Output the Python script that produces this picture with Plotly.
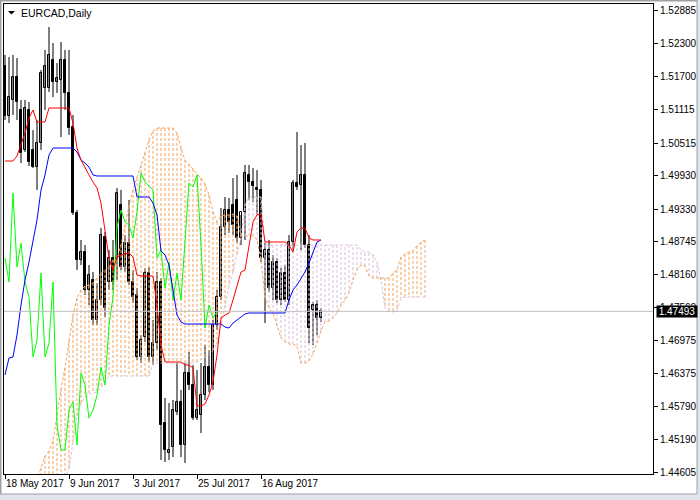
import plotly.graph_objects as go

# ---------------- data (EURCAD, Daily, 18 May 2017 ... 6 Sep 2017) ----------------
opens = [1.51897,1.51000,1.51287,1.51700,1.51108,1.50390,1.51108,1.50390,1.50084,1.50515,
         1.51502,1.51502,1.52005,1.51610,1.51646,1.52005,1.51413,1.50802,1.49259,1.48415,
         1.48559,1.47877,1.48056,1.47338,1.47697,1.48828,1.48020,1.48451,1.48415,1.49402,
         1.48289,1.48720,1.48020,1.47787,1.46674,1.47033,1.48182,1.46674,1.46925,1.48020,
         1.45489,1.44951,1.45058,1.45685,1.45866,1.45094,1.46387,1.46171,1.45577,1.45631,
         1.45992,1.46494,1.46171,1.47248,1.47751,1.49007,1.49313,1.49402,1.49492,1.48810,
         1.49277,1.49941,1.49815,1.49707,1.49672,1.48451,1.48595,1.47912,1.48379,1.47697,
         1.48182,1.47697,1.48738,1.49797,1.49761,1.49941,1.48684,1.47518,1.47607,1.47374]
highs = [1.52095,1.52059,1.52095,1.52041,1.51287,1.51287,1.51251,1.50749,1.50928,1.51826,
         1.52185,1.52597,1.52310,1.51951,1.52328,1.52185,1.52185,1.51018,1.49313,1.48774,
         1.48684,1.48325,1.48200,1.48002,1.48989,1.48918,1.48595,1.48774,1.49707,1.49672,
         1.48864,1.49492,1.48236,1.47912,1.47069,1.48271,1.48289,1.47338,1.48200,1.48092,
         1.45938,1.45848,1.45902,1.46566,1.46082,1.46566,1.46764,1.46530,1.46441,1.46566,
         1.46889,1.46800,1.47338,1.47877,1.49348,1.49546,1.49528,1.49887,1.49941,1.49223,
         1.50120,1.50120,1.50066,1.50031,1.49851,1.48720,1.48774,1.48505,1.48451,1.48271,
         1.48325,1.48864,1.49851,1.50713,1.50479,1.50515,1.48864,1.47661,1.47697,1.47553]
lows = [1.50928,1.50874,1.51018,1.50928,1.50156,1.50354,1.50102,1.50066,1.49672,1.50390,
        1.51108,1.51431,1.51341,1.51413,1.50623,1.51108,1.50659,1.49223,1.48236,1.48325,
        1.47787,1.47607,1.47248,1.47248,1.47607,1.47392,1.47877,1.47877,1.48056,1.48236,
        1.48200,1.47966,1.47643,1.46620,1.46566,1.46943,1.46584,1.46530,1.46800,1.44825,
        1.44789,1.44825,1.44879,1.45631,1.44879,1.44771,1.46082,1.45543,1.45543,1.45310,
        1.45902,1.46046,1.46082,1.47159,1.47697,1.48864,1.48900,1.48864,1.48720,1.48684,
        1.48774,1.49492,1.49456,1.49223,1.48379,1.47284,1.47841,1.47697,1.47643,1.47607,
        1.47661,1.47607,1.48595,1.49672,1.48595,1.48630,1.46925,1.46889,1.47069,1.47302]
closes = [1.51000,1.51341,1.51700,1.51251,1.50336,1.51143,1.50174,1.50084,1.50515,1.51772,
          1.51897,1.52095,1.51610,1.51682,1.52005,1.51413,1.50784,1.49259,1.48415,1.48559,
          1.47877,1.48146,1.47338,1.47697,1.48864,1.47553,1.48451,1.48020,1.49618,1.48289,
          1.48720,1.48020,1.47751,1.46674,1.46979,1.48182,1.46674,1.46925,1.48020,1.45453,
          1.45005,1.45005,1.45721,1.45866,1.45094,1.46387,1.46171,1.45577,1.45721,1.45992,
          1.46494,1.46171,1.47248,1.47751,1.49007,1.49313,1.49097,1.49043,1.48810,1.49277,
          1.49977,1.49815,1.49743,1.49672,1.48451,1.48595,1.47912,1.48379,1.47697,1.48182,
          1.47697,1.48738,1.49797,1.49725,1.49941,1.48684,1.47194,1.47607,1.47374,1.47493]

tenkan = [1.50192,1.50192,1.50192,1.50282,1.50479,1.50695,1.50964,1.51108,1.50892,1.50892,
          1.50892,1.51143,1.51143,1.51143,1.51143,1.51143,1.51143,1.50874,1.50425,1.50210,
          1.50066,1.49941,1.49815,1.49707,1.49438,1.48954,1.48451,1.48236,1.48469,1.48505,
          1.48523,1.48541,1.48469,1.48146,1.48128,1.48128,1.48128,1.48128,1.47607,1.46889,
          1.46584,1.46584,1.46584,1.46584,1.46584,1.46530,1.46530,1.46476,1.45794,1.45794,
          1.45830,1.45992,1.46225,1.46710,1.47374,1.47428,1.47464,1.47697,1.47966,1.48200,
          1.48236,1.48684,1.49097,1.49223,1.49241,1.48738,1.48738,1.48738,1.48738,1.48738,
          1.48738,1.48684,1.48559,1.48918,1.48989,1.48989,1.48810,1.48774,1.48774,1.48774]
kijun = [1.46351,1.46656,1.46674,1.47069,1.47607,1.48056,1.48379,1.48738,1.49133,1.49672,
         1.49941,1.50300,1.50425,1.50425,1.50425,1.50425,1.50425,1.50425,1.50354,1.50210,
         1.50156,1.50084,1.49941,1.49923,1.49923,1.49923,1.49923,1.49923,1.49923,1.49923,
         1.49923,1.49923,1.49923,1.49546,1.49546,1.49546,1.49546,1.49438,1.49223,1.48577,
         1.48505,1.48325,1.47877,1.47428,1.47302,1.47266,1.47266,1.47266,1.47266,1.47266,
         1.47266,1.47266,1.47266,1.47266,1.47266,1.47212,1.47194,1.47284,1.47338,1.47392,
         1.47446,1.47464,1.47464,1.47464,1.47464,1.47464,1.47464,1.47464,1.47464,1.47464,
         1.47464,1.47697,1.47877,1.47966,1.48074,1.48200,1.48361,1.48541,1.48738,1.48774]
span_a = [1.43748,1.43838,1.43928,1.44017,1.44107,1.44197,1.44287,1.44376,1.44502,1.44681,
          1.44897,1.44987,1.45166,1.45669,1.46099,1.46476,1.46979,1.47428,1.47733,1.47877,
          1.47948,1.47966,1.48002,1.48092,1.48182,1.48236,1.48289,1.48415,1.48433,1.48684,
          1.49043,1.49384,1.49672,1.49887,1.50120,1.50336,1.50569,1.50731,1.50784,1.50784,
          1.50784,1.50784,1.50784,1.50695,1.50425,1.50210,1.50138,1.50048,1.49959,1.49887,
          1.49779,1.49582,1.49277,1.49097,1.49205,1.49223,1.49223,1.49241,1.49205,1.48846,
          1.48846,1.48846,1.48846,1.48774,1.48415,1.47733,1.47553,1.47464,1.47230,1.47015,
          1.46943,1.46907,1.46907,1.46871,1.46566,1.46566,1.46602,1.46728,1.46925,1.47141,
          1.47302,1.47320,1.47374,1.47464,1.47607,1.47697,1.47823,1.48056,1.48236,1.48325,
          1.48307,1.48128,1.48092,1.48092,1.48092,1.48092,1.48092,1.48182,1.48236,1.48469,
          1.48523,1.48559,1.48577,1.48666,1.48738,1.48774]
span_b = [1.43569,1.43604,1.43640,1.43676,1.43712,1.43748,1.43784,1.43838,1.43892,1.43963,
          1.44035,1.44107,1.44179,1.44287,1.44394,1.44502,1.44681,1.45148,1.45615,1.45848,
          1.45956,1.46010,1.46028,1.46046,1.46117,1.46261,1.46333,1.46333,1.46333,1.46333,
          1.46333,1.46333,1.46333,1.46333,1.46333,1.46333,1.46333,1.46566,1.46566,1.46566,
          1.46566,1.46566,1.46566,1.46566,1.46566,1.46566,1.46566,1.46566,1.46584,1.46620,
          1.46674,1.46710,1.46800,1.46907,1.47230,1.47571,1.47948,1.48200,1.48505,1.48828,
          1.49402,1.49546,1.49546,1.49546,1.49546,1.48684,1.48684,1.48684,1.48684,1.48684,
          1.48684,1.48684,1.48684,1.48684,1.48684,1.48684,1.48684,1.48684,1.48684,1.48684,
          1.48684,1.48684,1.48684,1.48684,1.48684,1.48684,1.48684,1.48684,1.48684,1.48595,
          1.48559,1.48559,1.48505,1.48379,1.48056,1.47553,1.47482,1.47482,1.47518,1.47733,
          1.47751,1.47751,1.47751,1.47751,1.47751,1.47751]
chikou_shift = 26

date_ticks = [0, 16, 32, 48, 64]
date_labels = ["18 May 2017", "9 Jun 2017", "3 Jul 2017", "25 Jul 2017", "16 Aug 2017"]
price_ticks = [1.52885, 1.52300, 1.51700, 1.51115, 1.50515, 1.49930, 1.49330, 1.48745,
               1.48160, 1.47560, 1.46975, 1.46375, 1.45790, 1.45190, 1.44605]
last_price = 1.47493
title_text = "EURCAD,Daily"

# ---------------- layout geometry ----------------
W, H = 700, 500
ML, MR, MT, MB = 4, 47, 4, 26
PW, PH = W - ML - MR, H - MT - MB
X_RANGE = [-0.25, PW / 4.0 - 0.25]   # 4 px per daily bar
Y_RANGE = [1.44574, 1.53010]
FONT = "Liberation Sans"

def pxx(px):  # pixel x -> paper x
    return (px - ML) / PW

def pxy(py):  # pixel y -> paper y
    return 1 - (py - MT) / PH

def bar_px(i):  # bar index -> pixel x
    return ML + (i - X_RANGE[0]) / (X_RANGE[1] - X_RANGE[0]) * PW

n = len(closes)
idx = list(range(n))
n_cloud = len(span_a)
cidx = list(range(n_cloud))

fig = go.Figure()

# wicks
wx, wy = [], []
for i in idx:
    wx += [i, i, None]
    wy += [lows[i], highs[i], None]
fig.add_trace(go.Scatter(x=wx, y=wy, mode="lines", line=dict(color="black", width=1),
                         hoverinfo="skip", showlegend=False))

# bodies
bases = [min(o, c) for o, c in zip(opens, closes)]
heights = [max(abs(c - o), 0.00003) for o, c in zip(opens, closes)]
colors = ["white" if c >= o else "black" for o, c in zip(opens, closes)]
fig.add_trace(go.Bar(x=idx, y=heights, base=bases, width=0.5,
                     marker=dict(color=colors, line=dict(color="black", width=1)),
                     hoverinfo="skip", showlegend=False))

# cloud histogram
SANDY, THISTLE = "#F4A460", "#D8BFD8"
DASH = "3px,2px"
sx, sy, tx, ty = [], [], [], []
for i in cidx:
    if span_a[i] >= span_b[i]:
        sx += [i, i, None]; sy += [span_a[i], span_b[i], None]
    else:
        tx += [i, i, None]; ty += [span_a[i], span_b[i], None]
fig.add_trace(go.Scatter(x=sx, y=sy, mode="lines", line=dict(color=SANDY, width=1, dash=DASH),
                         hoverinfo="skip", showlegend=False))
fig.add_trace(go.Scatter(x=tx, y=ty, mode="lines", line=dict(color=THISTLE, width=1, dash=DASH),
                         hoverinfo="skip", showlegend=False))
fig.add_trace(go.Scatter(x=cidx, y=span_a, mode="lines", line=dict(color=SANDY, width=1, dash=DASH),
                         hoverinfo="skip", showlegend=False))
fig.add_trace(go.Scatter(x=cidx, y=span_b, mode="lines", line=dict(color=THISTLE, width=1, dash=DASH),
                         hoverinfo="skip", showlegend=False))

# chikou (close shifted back)
fig.add_trace(go.Scatter(x=idx[:n - chikou_shift], y=closes[chikou_shift:], mode="lines",
                         line=dict(color="#00FF00", width=1), hoverinfo="skip", showlegend=False))
# kijun, tenkan
fig.add_trace(go.Scatter(x=idx, y=kijun, mode="lines", line=dict(color="#0000FF", width=1),
                         hoverinfo="skip", showlegend=False))
fig.add_trace(go.Scatter(x=idx, y=tenkan, mode="lines", line=dict(color="#FF0000", width=1),
                         hoverinfo="skip", showlegend=False))

shapes = [
    dict(type="line", xref="paper", yref="y", x0=0, x1=1, y0=last_price, y1=last_price,
         line=dict(color="#C0C0C0", width=1), layer="above"),
    dict(type="path", xref="paper", yref="paper",
         path=f"M {pxx(8)},{pxy(11)} L {pxx(15)},{pxy(11)} L {pxx(11.5)},{pxy(14.5)} Z",
         fillcolor="black", line=dict(width=0)),
    # window chrome
    dict(type="rect", xref="paper", yref="paper", x0=pxx(0), x1=pxx(1.5), y0=pxy(500), y1=pxy(0),
         fillcolor="#A0A0A0", line=dict(width=0)),
    dict(type="rect", xref="paper", yref="paper", x0=pxx(0), x1=pxx(700), y0=pxy(1.5), y1=pxy(0),
         fillcolor="#A0A0A0", line=dict(width=0)),
    dict(type="rect", xref="paper", yref="paper", x0=pxx(697), x1=pxx(700), y0=pxy(500), y1=pxy(0),
         fillcolor="#DDE4EE", line=dict(width=0)),
    dict(type="line", xref="paper", yref="paper", x0=pxx(697), x1=pxx(697), y0=pxy(494), y1=pxy(0),
         line=dict(color="#A0A0A0", width=1)),
    dict(type="rect", xref="paper", yref="paper", x0=pxx(0), x1=pxx(700), y0=pxy(500), y1=pxy(494),
         fillcolor="#DDE4EE", line=dict(width=0)),
    dict(type="line", xref="paper", yref="paper", x0=pxx(0), x1=pxx(697), y0=pxy(494), y1=pxy(494),
         line=dict(color="#A0A0A0", width=1)),
]

TXT = dict(family=FONT, size=10, color="black")
annotations = [
    dict(text=title_text, xref="paper", yref="paper", x=pxx(19), y=pxy(13), xanchor="left",
         yanchor="middle", showarrow=False, font=dict(family=FONT, size=10.5, color="black")),
]
for v in price_ticks:
    annotations.append(dict(text=f"{v:.5f}", xref="paper", yref="y", x=pxx(658), y=v,
                            xanchor="left", yanchor="middle", showarrow=False, font=TXT))
# current price label (drawn after the tick labels so it covers the one beneath)
annotations.append(dict(text=f"{last_price:.5f}", xref="paper", yref="y", x=pxx(656), y=last_price,
                        xanchor="left", yanchor="middle", showarrow=False, bgcolor="black",
                        width=40, height=11, borderpad=0, align="center",
                        font=dict(family=FONT, size=10, color="white")))
for t, lab in zip(date_ticks, date_labels):
    annotations.append(dict(text=lab, xref="paper", yref="paper", x=pxx(bar_px(t) - 1.5), y=pxy(483),
                            xanchor="left", yanchor="middle", showarrow=False, font=TXT))

fig.update_layout(
    width=W, height=H, margin=dict(l=ML, r=MR, t=MT, b=MB, pad=0),
    paper_bgcolor="white", plot_bgcolor="white", showlegend=False, hovermode=False,
    bargap=0, shapes=shapes, annotations=annotations,
    xaxis=dict(range=X_RANGE, showgrid=False, zeroline=False, showline=True, mirror=True,
               linecolor="black", linewidth=1, ticks="outside", ticklen=4, tickcolor="black",
               tickvals=date_ticks, ticktext=[""] * len(date_ticks), fixedrange=True),
    yaxis=dict(range=Y_RANGE, side="right", showgrid=False, zeroline=False, showline=True, mirror=True,
               linecolor="black", linewidth=1, ticks="outside", ticklen=4, tickcolor="black",
               tickvals=price_ticks, ticktext=[""] * len(price_ticks), fixedrange=True),
)

fig.write_html("out.html", config={"displayModeBar": False},
               post_script="document.body.style.margin='0';document.body.style.padding='0';")
